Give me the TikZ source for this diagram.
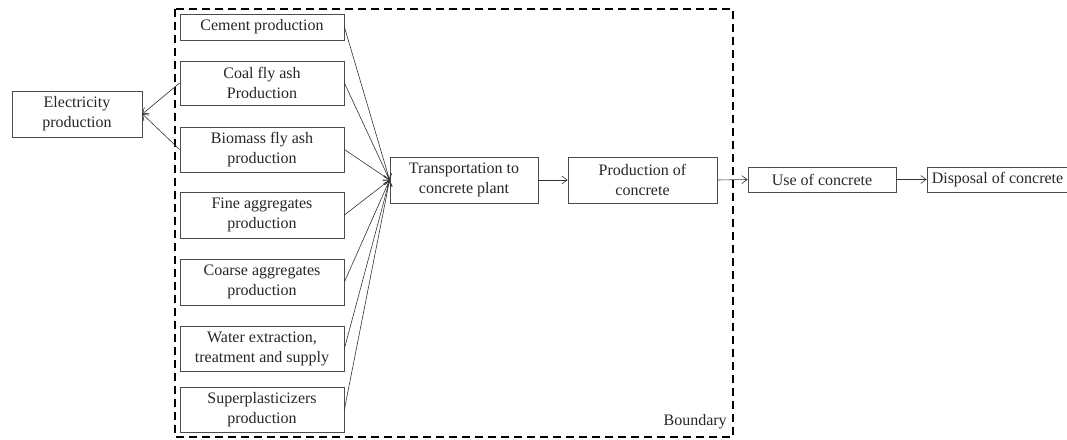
\documentclass[tikz,border=0pt]{standalone}
\usepackage{fontspec}
\setmainfont{Liberation Serif}
\usetikzlibrary{arrows.meta}
\begin{document}
\begin{tikzpicture}[x=0.75pt,y=-0.75pt,
  box/.style={draw=black!70,line width=0.6pt,inner sep=0pt,align=center,
    text=black!85,font=\fontsize{12pt}{15pt}\selectfont},
  conn/.style={draw=black!80,line width=0.45pt,-{Straight Barb[length=4pt,width=6pt]}},
  boundary/.style={draw=black,line width=1.5pt,dash pattern=on 6pt off 3.75pt}]
\useasboundingbox (0,0) rectangle (1067,439);
\draw[boundary] (175,9) rectangle (733,437);
\node[box,minimum width=123pt,minimum height=19.5pt] (cement) at (262,27) {Cement production};
\node[box,minimum width=123pt,minimum height=33pt] (coal) at (262,83) {Coal fly ash\\Production};
\node[box,minimum width=123pt,minimum height=33.75pt] (bio) at (262,149.5) {Biomass fly ash\\production};
\node[box,minimum width=123pt,minimum height=34.5pt] (fine) at (262,215) {Fine aggregates\\production};
\node[box,minimum width=123pt,minimum height=34.5pt] (coarse) at (262,282) {Coarse aggregates\\production};
\node[box,minimum width=123pt,minimum height=33.75pt] (water) at (262,348.5) {Water extraction,\\treatment and supply};
\node[box,minimum width=123pt,minimum height=33.75pt] (super) at (262,409.5) {Superplasticizers\\production};
\node[box,minimum width=97.5pt,minimum height=34.5pt] (elec) at (77,114) {Electricity\\production};
\node[box,minimum width=111pt,minimum height=34.5pt] (trans) at (464,180) {Transportation to\\concrete plant};
\node[box,minimum width=111.75pt,minimum height=34.5pt] (prod) at (642.5,180) {Production of\\concrete};
\node[box,minimum width=111pt,minimum height=18.75pt] (use) at (822,179.5) {Use of concrete};
\node[box,minimum width=105.75pt,minimum height=18.75pt] (disp) at (997.5,179.5) {Disposal of concrete};
\node[anchor=south east,inner sep=0pt,text=black!85,font=\fontsize{12pt}{15pt}\selectfont] (blabel) at (727,429) {Boundary};
\foreach \n in {cement,coal,bio,fine,coarse,water,super}
  \draw[conn] (\n.east) -- (trans.west);
\draw[conn] (coal.west) -- (elec.east);
\draw[conn] (bio.west) -- (elec.east);
\draw[conn] (trans.east) -- (prod.west);
\draw[conn] (prod.east) -- (use.west);
\draw[conn] (use.east) -- (disp.west);
\end{tikzpicture}
\end{document}
